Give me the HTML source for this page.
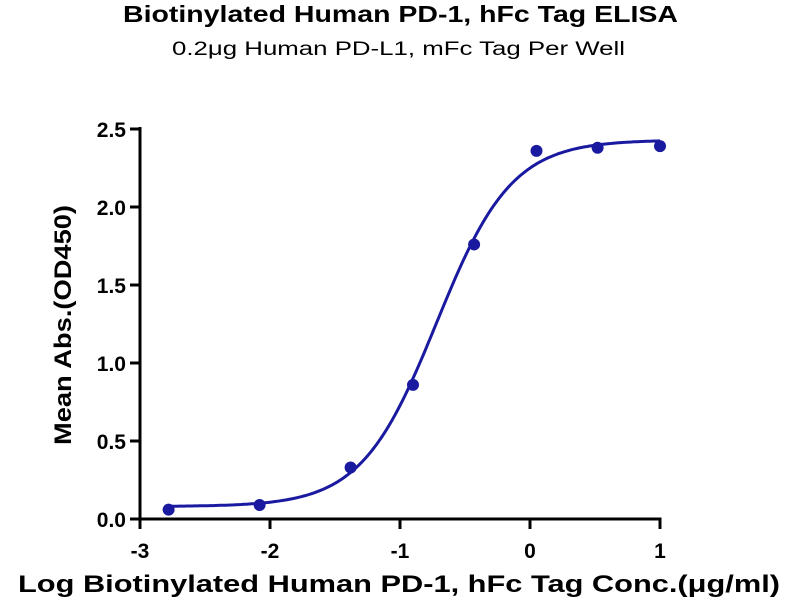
<!DOCTYPE html>
<html><head><style>body{margin:0;background:#fff}svg{display:block}text{font-family:"Liberation Sans",sans-serif}</style></head>
<body>
<svg id="s" width="800" height="600" xmlns="http://www.w3.org/2000/svg">
<text x="123" y="22" font-size="23" font-weight="bold" textLength="555" lengthAdjust="spacingAndGlyphs">Biotinylated Human PD-1, hFc Tag ELISA</text>
<text x="172" y="55" font-size="19" textLength="453" lengthAdjust="spacingAndGlyphs">0.2μg Human PD-L1, mFc Tag Per Well</text>
<g stroke="#000" stroke-width="3" fill="none">
<line x1="140" y1="127" x2="140" y2="520.5"/>
<line x1="138.5" y1="519" x2="661.5" y2="519"/>
<line x1="130" y1="129" x2="140" y2="129"/>
<line x1="130" y1="207" x2="140" y2="207"/>
<line x1="130" y1="285" x2="140" y2="285"/>
<line x1="130" y1="363" x2="140" y2="363"/>
<line x1="130" y1="441" x2="140" y2="441"/>
<line x1="130" y1="519" x2="140" y2="519"/>
<line x1="140" y1="519" x2="140" y2="529"/>
<line x1="270" y1="519" x2="270" y2="529"/>
<line x1="400" y1="519" x2="400" y2="529"/>
<line x1="530" y1="519" x2="530" y2="529"/>
<line x1="660" y1="519" x2="660" y2="529"/>
</g>
<g font-size="21" font-weight="bold" text-anchor="end">
<text x="126" y="137">2.5</text><text x="126" y="215">2.0</text><text x="126" y="293">1.5</text>
<text x="126" y="371">1.0</text><text x="126" y="449">0.5</text><text x="126" y="527">0.0</text>
</g>
<g font-size="21" font-weight="bold" text-anchor="middle">
<text x="140" y="558">-3</text><text x="270" y="558">-2</text><text x="400" y="558">-1</text>
<text x="530" y="558">0</text><text x="660" y="558">1</text>
</g>
<text x="18" y="592" font-size="24" font-weight="bold" textLength="762" lengthAdjust="spacingAndGlyphs">Log Biotinylated Human PD-1, hFc Tag Conc.(μg/ml)</text>
<text transform="translate(71,445) rotate(-90)" font-size="24" font-weight="bold" textLength="240" lengthAdjust="spacingAndGlyphs">Mean Abs.(OD450)</text>
<path id="c" fill="none" stroke="#1a1aa0" stroke-width="3"/>
<g id="p" fill="#1a1aa0"></g>
</svg>
<script>
var X=function(v){return 140+130*(v+3)},Y=function(v){return 519-156*v};
var f=function(x){return 0.08+2.35/(1+Math.pow(10,(-0.72-x)*1.5))};
var d="";for(var x=-2.78;x<=1.0001;x+=0.02){d+=(d?"L":"M")+X(x).toFixed(1)+" "+Y(f(x)).toFixed(1);}
document.getElementById("c").setAttribute("d",d);
var pts=[[-2.78,0.06],[-2.08,0.09],[-1.38,0.33],[-0.9,0.86],[-0.43,1.76],[0.05,2.36],[0.52,2.38],[1.0,2.39]];
var g=document.getElementById("p");
pts.forEach(function(p){var c=document.createElementNS("http://www.w3.org/2000/svg","circle");c.setAttribute("cx",X(p[0]));c.setAttribute("cy",Y(p[1]));c.setAttribute("r",6);g.appendChild(c);});
</script>
</body></html>
